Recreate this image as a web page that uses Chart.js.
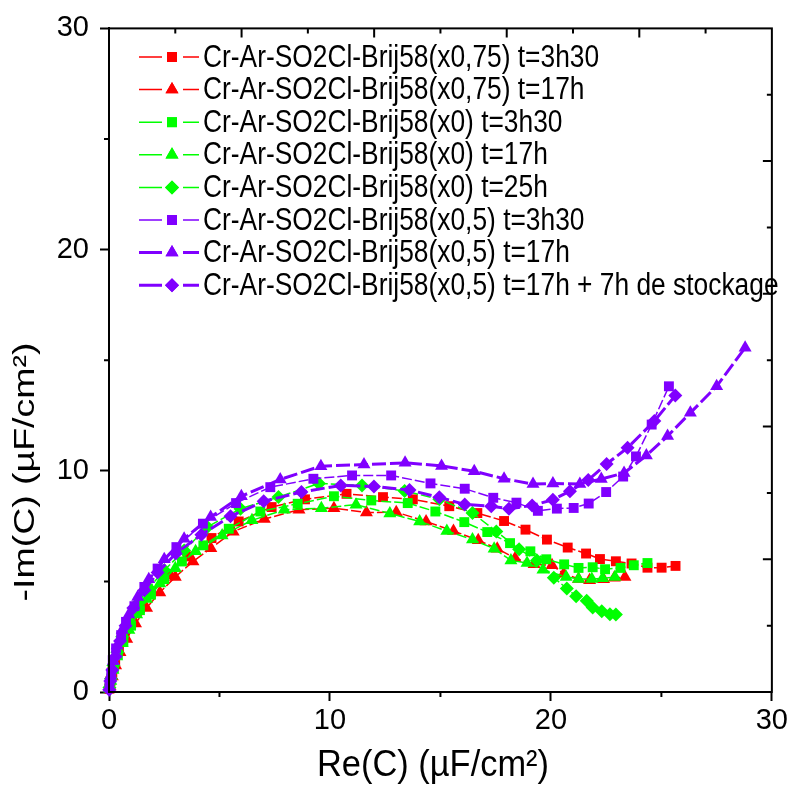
<!DOCTYPE html>
<html>
<head>
<meta charset="utf-8">
<script src="https://cdn.jsdelivr.net/npm/chart.js@4.4.0/dist/chart.umd.min.js"></script>
<style>
  html, body { margin: 0; padding: 0; background: #fff; }
  canvas { display: block; }
</style>
</head>
<body>
<canvas id="chart" width="791" height="790"></canvas>
<script>
// series labels
const seriesNames = [
  'Cr-Ar-SO2Cl-Brij58(x0,75) t=3h30',
  'Cr-Ar-SO2Cl-Brij58(x0,75) t=17h',
  'Cr-Ar-SO2Cl-Brij58(x0) t=3h30',
  'Cr-Ar-SO2Cl-Brij58(x0) t=17h',
  'Cr-Ar-SO2Cl-Brij58(x0) t=25h',
  'Cr-Ar-SO2Cl-Brij58(x0,5) t=3h30',
  'Cr-Ar-SO2Cl-Brij58(x0,5) t=17h',
  'Cr-Ar-SO2Cl-Brij58(x0,5) t=17h + 7h de stockage'
];

// Re(C) / -Im(C) values (µF/cm²)
const red3h30X = [0.02,0.07,0.15,0.28,0.45,0.7,1.0,1.4,1.9,2.68,3.55,4.64,5.87,7.36,8.87,10.75,12.40,13.75,15.40,16.67,17.88,18.85,19.82,20.76,21.59,22.22,22.94,23.65,24.37,25.01,25.64];
const red3h30Y = [0.15,0.5,0.9,1.4,1.9,2.5,3.1,3.8,4.5,5.32,6.13,6.96,7.71,8.36,8.71,8.96,8.81,8.71,8.40,8.09,7.73,7.34,6.89,6.53,6.26,6.01,5.91,5.81,5.62,5.62,5.70];

const red17hX = [0.05,0.15,0.3,0.5,0.8,1.2,1.7,2.3,3.0,3.8,4.61,5.62,7.03,8.60,10.18,11.65,13.0,14.35,15.59,16.71,17.57,18.38,19.24,20.05,20.58,21.25,21.75,22.38,22.87,23.35];
const red17hY = [0.25,0.7,1.2,1.8,2.4,3.1,3.8,4.5,5.2,5.9,6.5,7.25,7.82,8.24,8.31,8.11,8.13,7.71,7.28,6.86,6.48,6.05,5.77,5.73,5.35,5.11,5.05,5.10,5.16,5.20];

const green3h30X = [0.03,0.1,0.22,0.4,0.65,1.0,1.4,1.9,2.5,3.3,4.27,5.42,6.85,8.54,10.18,11.87,13.52,14.77,16.08,17.12,18.15,19.07,19.79,20.60,21.25,21.89,22.45,23.15,23.75,24.37];
const green3h30Y = [0.2,0.6,1.1,1.7,2.3,3.0,3.7,4.4,5.1,5.9,6.63,7.38,8.16,8.51,8.85,8.66,8.54,8.16,7.68,7.23,6.73,6.36,6.0,5.77,5.61,5.64,5.55,5.61,5.73,5.83];

const green17hX = [0.02,0.08,0.18,0.35,0.6,0.9,1.25,1.7,2.3,3.0,3.92,5.12,6.47,7.93,9.61,11.18,12.71,14.06,15.29,16.45,17.43,18.19,18.92,19.64,20.69,21.25,21.85,22.34,22.90];
const green17hY = [0.15,0.5,1.0,1.6,2.2,2.8,3.5,4.2,4.9,5.6,6.36,7.08,7.76,8.24,8.31,8.47,8.07,7.71,7.28,6.89,6.48,5.95,5.83,5.53,5.20,5.11,5.11,5.14,5.20];

const green25hX = [0.02,0.09,0.2,0.38,0.6,0.9,1.3,1.8,2.5,3.40,4.45,5.95,7.67,9.50,11.45,13.38,14.95,16.45,17.53,18.56,19.37,20.13,20.72,21.14,21.62,21.89,22.30,22.67,22.94];
const green25hY = [0.2,0.6,1.2,1.8,2.5,3.2,4.0,4.7,5.5,6.40,7.46,8.29,8.81,9.43,9.34,9.09,8.71,8.09,7.26,6.45,5.95,5.17,4.68,4.33,4.12,3.82,3.65,3.52,3.50];

const violet3h30X = [0.02,0.1,0.17,0.32,0.55,0.77,1.15,1.6,2.2,3.05,4.25,5.75,7.30,9.25,11.00,12.77,14.55,16.10,17.39,18.44,19.41,20.27,21.03,21.71,22.50,23.27,23.85,24.56,25.34];
const violet3h30Y = [0.24,0.84,1.44,1.97,2.57,3.17,3.88,4.75,5.58,6.55,7.61,8.54,9.26,9.64,9.79,9.79,9.43,9.19,8.78,8.56,8.19,8.29,8.32,8.52,9.04,9.74,10.65,12.09,13.82];

const violet17hX = [0.02,0.08,0.2,0.37,0.6,0.9,1.3,1.8,2.5,3.40,4.60,5.99,7.75,9.59,11.54,13.40,15.05,16.53,17.88,19.19,20.09,21.31,22.28,23.31,24.32,25.28,26.31,27.50,28.79];
const violet17hY = [0.2,0.75,1.4,2.1,2.8,3.5,4.3,5.1,6.0,6.93,7.91,8.85,9.61,10.21,10.28,10.36,10.22,9.98,9.64,9.40,9.43,9.40,9.63,9.90,10.69,11.57,12.62,13.82,15.56];

const violetStoreX = [0.01,0.06,0.15,0.3,0.5,0.75,1.1,1.6,2.2,3.02,4.18,5.50,7.00,8.71,10.49,11.99,13.60,14.95,16.10,17.30,18.10,19.15,20.09,20.86,21.69,22.52,23.47,24.68,25.63];
const violetStoreY = [0.1,0.5,1.0,1.6,2.3,3.0,3.8,4.6,5.4,6.26,7.11,7.94,8.62,9.04,9.34,9.29,9.13,8.80,8.48,8.40,8.29,8.43,8.69,9.08,9.58,10.31,11.04,12.25,13.40];

// axis ticks
const xTicks = [0, 10, 20, 30];
const yTicks = [0, 10, 20, 30];

const RED = '#ff0000', GREEN = '#00ff00', VIOLET = '#8000ff';

function pts(xs, ys) { return xs.map((x, i) => ({ x, y: ys[i] })); }

function series(i, xs, ys, color, shape, width) {
  const radius = shape === 'triangle' ? 7.5 : 7;
  return {
    label: seriesNames[i],
    data: pts(xs, ys),
    showLine: true,
    borderColor: color,
    backgroundColor: color,
    borderWidth: width,
    borderDash: width > 2 ? [14, 4] : [10, 3],
    pointStyle: shape,
    pointRadius: radius,
    pointHoverRadius: radius,
    pointBorderWidth: 0,
    order: 8 - i,
    clip: false
  };
}

const datasets = [
  series(0, red3h30X, red3h30Y, RED, 'rect', 1.5),
  series(1, red17hX, red17hY, RED, 'triangle', 1.5),
  series(2, green3h30X, green3h30Y, GREEN, 'rect', 1.5),
  series(3, green17hX, green17hY, GREEN, 'triangle', 1.5),
  series(4, green25hX, green25hY, GREEN, 'rectRot', 1.5),
  series(5, violet3h30X, violet3h30Y, VIOLET, 'rect', 1.5),
  series(6, violet17hX, violet17hY, VIOLET, 'triangle', 3),
  series(7, violetStoreX, violetStoreY, VIOLET, 'rectRot', 3)
];

const tickFont = { family: "'Liberation Sans', Arial, sans-serif", size: 29 };

// frame, minor ticks, top/right inner ticks, titles and legend
const decor = {
  id: 'decor',
  afterDraw(chart) {
    const { ctx, chartArea: a, scales } = chart;
    const xs = scales.x, ys = scales.y, xt = scales.xTop, yr = scales.yRight;
    ctx.save();
    ctx.strokeStyle = '#000';
    ctx.lineWidth = 2;
    ctx.strokeRect(a.left, a.top, a.right - a.left, a.bottom - a.top);
    ctx.beginPath();
    [5, 15, 25].forEach(v => {
      const px = xs.getPixelForValue(v);
      ctx.moveTo(px, a.bottom); ctx.lineTo(px, a.bottom + 5);
      const py = ys.getPixelForValue(v);
      ctx.moveTo(a.left, py); ctx.lineTo(a.left - 5, py);
    });
    for (let k = 1; k < 10; k++) {
      const v = k / 2, len = k % 2 ? 5 : 9;
      const px = xt.getPixelForValue(v);
      ctx.moveTo(px, a.top); ctx.lineTo(px, a.top + len);
      const py = yr.getPixelForValue(v);
      ctx.moveTo(a.right, py); ctx.lineTo(a.right - len, py);
    }
    ctx.stroke();

    // axis titles
    ctx.fillStyle = '#000';
    ctx.textAlign = 'center';
    ctx.textBaseline = 'middle';
    ctx.font = "37px 'Liberation Sans', Arial, sans-serif";
    ctx.save();
    ctx.translate(433, 766);
    ctx.scale(0.93, 1);
    ctx.fillText('Re(C) (µF/cm²)', 0, 0);
    ctx.restore();
    ctx.font = "30px 'Liberation Sans', Arial, sans-serif";
    ctx.save();
    ctx.translate(26, 472);
    ctx.rotate(-Math.PI / 2);
    ctx.scale(1.25, 1);
    ctx.fillText('-Im(C) (µF/cm²)', 0, 0);
    ctx.restore();

    // legend
    ctx.font = "31px 'Liberation Sans', Arial, sans-serif";
    ctx.textAlign = 'left';
    chart.data.datasets.forEach((ds, i) => {
      const y = 57 + i * 32.6;
      ctx.strokeStyle = ds.borderColor;
      ctx.lineWidth = ds.borderWidth;
      ctx.beginPath();
      ctx.moveTo(139, y); ctx.lineTo(162, y);
      ctx.moveTo(183, y); ctx.lineTo(199, y);
      ctx.stroke();
      ctx.fillStyle = ds.backgroundColor;
      Chart.helpers.drawPoint(ctx, { pointStyle: ds.pointStyle, radius: ds.pointRadius, borderWidth: 0, rotation: 0 }, 172, y);
      ctx.fill();
      ctx.fillStyle = '#000';
      ctx.save();
      ctx.translate(203, y + 1);
      ctx.scale(0.85, 1);
      ctx.fillText(ds.label, 0, 0);
      ctx.restore();
    });
    ctx.restore();
  }
};

new Chart(document.getElementById('chart'), {
  type: 'scatter',
  data: { datasets },
  options: {
    responsive: false,
    animation: false,
    devicePixelRatio: 1,
    layout: { padding: { top: 27, right: 15, left: 0, bottom: 0 } },
    plugins: { legend: { display: false }, tooltip: { enabled: false } },
    scales: {
      x: {
        type: 'linear', position: 'bottom', min: 0, max: 30,
        afterBuildTicks: s => { s.ticks = xTicks.map(v => ({ value: v })); },
        afterFit: s => { s.height = 98; },
        grid: { drawOnChartArea: false, drawTicks: true, tickLength: 9, tickWidth: 2, tickColor: '#000' },
        border: { display: true, color: '#000', width: 2 },
        ticks: { color: '#000', font: tickFont, padding: 3, maxRotation: 0 }
      },
      y: {
        type: 'linear', position: 'left', min: 0, max: 30,
        afterBuildTicks: s => { s.ticks = yTicks.map(v => ({ value: v })); },
        afterFit: s => { s.width = 109; },
        grid: { drawOnChartArea: false, drawTicks: true, tickLength: 9, tickWidth: 2, tickColor: '#000' },
        border: { display: true, color: '#000', width: 2 },
        ticks: { color: '#000', font: tickFont, padding: 11 }
      },
      xTop: { type: 'linear', position: 'top', min: 0, max: 5, display: false },
      yRight: { type: 'linear', position: 'right', min: 0, max: 5, display: false }
    }
  },
  plugins: [decor]
});
</script>
</body>
</html>
